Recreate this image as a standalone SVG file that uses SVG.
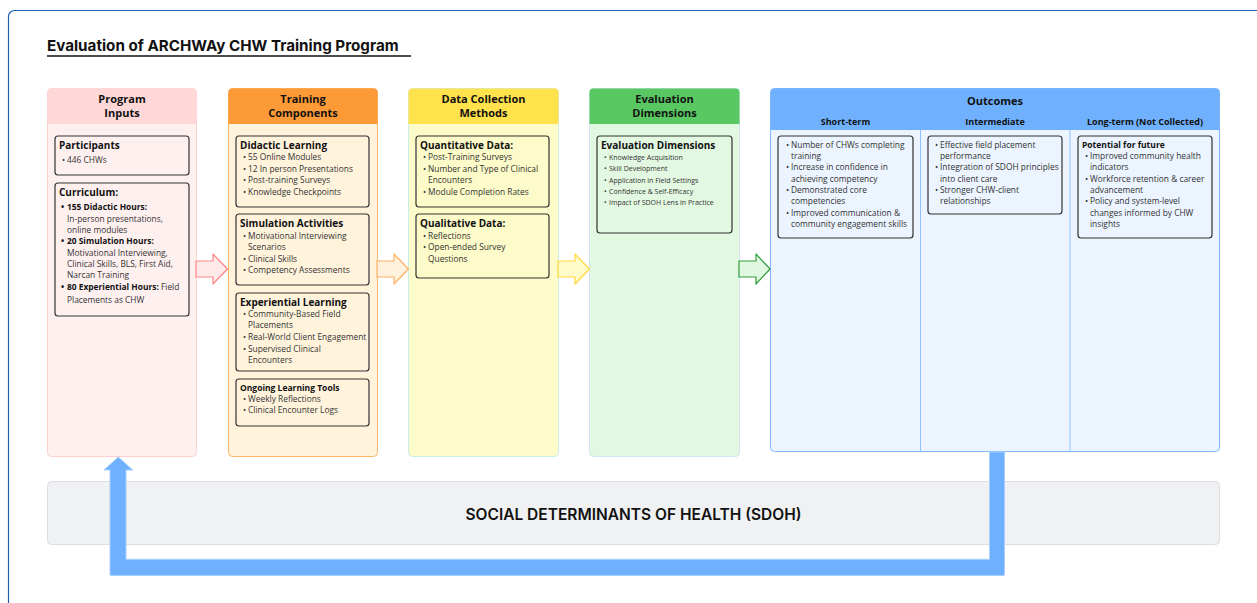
<svg xmlns="http://www.w3.org/2000/svg" width="1257" height="603" viewBox="0 0 1257 603">
  <style>
    .head { font-family: "Open Sans", sans-serif; font-weight: 700; font-size: 11px; fill: #111; text-anchor: middle; }
    .sub { font-family: "Open Sans", sans-serif; font-weight: 700; font-size: 9px; fill: #111; text-anchor: middle; }
    .ct { font-family: "Open Sans", sans-serif; font-weight: 700; font-size: 10px; fill: #111; }
    .cts { font-family: "Open Sans", sans-serif; font-weight: 700; font-size: 8.5px; fill: #111; }
    .b { font-family: "Open Sans", sans-serif; font-size: 8.4px; fill: #333; }
    .bs { font-family: "Open Sans", sans-serif; font-size: 7px; fill: #333; }
    .bb { font-weight: 700; fill: #111; }
    .card { stroke: #333; stroke-width: 1.2; }
    .arrow { stroke-width: 1.2; stroke-linejoin: round; }
  </style>

  <rect width="1257" height="603" fill="#ffffff"/>
  <!-- outer frame -->
  <rect x="8.5" y="10.5" width="1270" height="620" rx="6" fill="none" stroke="#1f5fb0" stroke-width="1.2"/>

  <!-- title -->
  <g id="title">
    <text x="47" y="51" font-family="Inter, 'Liberation Sans', sans-serif" font-weight="700" font-size="15.2" fill="#111">Evaluation of ARCHWAy CHW Training Program</text>
    <line x1="47" y1="56" x2="411" y2="56" stroke="#111" stroke-width="1.6"/>
  </g>

  <!-- column 1: program inputs -->
  <g id="program-inputs">
    <rect x="47.5" y="88.5" width="149" height="368" rx="4" fill="#fff0f0" stroke="#ffd0d0"/>
    <path d="M47.5 124 V92.5 a4 4 0 0 1 4 -4 H192.5 a4 4 0 0 1 4 4 V124 Z" fill="#ffd7d7"/>
    <text class="head" x="122"><tspan x="122" y="103">Program</tspan><tspan x="122" y="117">Inputs</tspan></text>

    <rect class="card" x="55" y="136" width="134" height="39" rx="3" fill="#fff0f0"/>
    <text class="ct" x="59" y="149">Participants</text>
    <text class="b" x="62" y="163">•<tspan x="67">446 CHWs</tspan></text>

    <rect class="card" x="55" y="183" width="134" height="133" rx="3" fill="#fff0f0"/>
    <text class="ct" x="59" y="196">Curriculum:</text>
    <text class="b">
      <tspan x="61" y="210" class="bb">•</tspan><tspan x="67" y="210" class="bb">155 Didactic Hours:</tspan>
      <tspan x="67" y="222">In-person presentations,</tspan>
      <tspan x="67" y="233">online modules</tspan>
      <tspan x="61" y="244" class="bb">•</tspan><tspan x="67" y="244" class="bb">20 Simulation Hours:</tspan>
      <tspan x="67" y="256">Motivational Interviewing,</tspan>
      <tspan x="67" y="267">Clinical Skills, BLS, First Aid,</tspan>
      <tspan x="67" y="278">Narcan Training</tspan>
      <tspan x="61" y="290" class="bb">•</tspan><tspan x="67" y="290" class="bb">80 Experiential Hours:</tspan><tspan> Field</tspan>
      <tspan x="67" y="303">Placements as CHW</tspan>
    </text>
  </g>

  <!-- column 2: training components -->
  <g id="training-components">
    <rect x="228.5" y="88.5" width="149" height="368" rx="4" fill="#fff3dc" stroke="#ffb566"/>
    <path d="M228.5 124 V92.5 a4 4 0 0 1 4 -4 H373.5 a4 4 0 0 1 4 4 V124 Z" fill="#fd9a38"/>
    <text class="head" x="303"><tspan x="303" y="103">Training</tspan><tspan x="303" y="117">Components</tspan></text>

    <rect class="card" x="236" y="136" width="133" height="71" rx="3" fill="#fff3dc"/>
    <text class="ct" x="240" y="149">Didactic Learning</text>
    <text class="b">
      <tspan x="243" y="160">•</tspan><tspan x="248" y="160">55 Online Modules</tspan>
      <tspan x="243" y="172">•</tspan><tspan x="248" y="172">12 In person Presentations</tspan>
      <tspan x="243" y="183">•</tspan><tspan x="248" y="183">Post-training Surveys</tspan>
      <tspan x="243" y="195">•</tspan><tspan x="248" y="195">Knowledge Checkpoints</tspan>
    </text>

    <rect class="card" x="236" y="214" width="133" height="71" rx="3" fill="#fff3dc"/>
    <text class="ct" x="240" y="227">Simulation Activities</text>
    <text class="b">
      <tspan x="243" y="239">•</tspan><tspan x="248" y="239">Motivational Interviewing</tspan>
      <tspan x="248" y="250">Scenarios</tspan>
      <tspan x="243" y="262">•</tspan><tspan x="248" y="262">Clinical Skills</tspan>
      <tspan x="243" y="273">•</tspan><tspan x="248" y="273">Competency Assessments</tspan>
    </text>

    <rect class="card" x="236" y="293" width="133" height="78" rx="3" fill="#fff3dc"/>
    <text class="ct" x="240" y="306">Experiential Learning</text>
    <text class="b">
      <tspan x="243" y="317">•</tspan><tspan x="248" y="317">Community-Based Field</tspan>
      <tspan x="248" y="328">Placements</tspan>
      <tspan x="243" y="340">•</tspan><tspan x="248" y="340">Real-World Client Engagement</tspan>
      <tspan x="243" y="352">•</tspan><tspan x="248" y="352">Supervised Clinical</tspan>
      <tspan x="248" y="363">Encounters</tspan>
    </text>

    <rect class="card" x="236" y="379" width="133" height="47" rx="3" fill="#fff3dc"/>
    <text class="cts" x="240" y="391">Ongoing Learning Tools</text>
    <text class="b">
      <tspan x="243" y="402">•</tspan><tspan x="248" y="402">Weekly Reflections</tspan>
      <tspan x="243" y="413">•</tspan><tspan x="248" y="413">Clinical Encounter Logs</tspan>
    </text>
  </g>

  <!-- column 3: data collection methods -->
  <g id="data-collection">
    <rect x="408.5" y="88.5" width="150" height="368" rx="4" fill="#fcfbc9" stroke="#c8eeea"/>
    <path d="M408.5 124 V92.5 a4 4 0 0 1 4 -4 H554.5 a4 4 0 0 1 4 4 V124 Z" fill="#ffe24c"/>
    <text class="head" x="483.5"><tspan x="483.5" y="103">Data Collection</tspan><tspan x="483.5" y="117">Methods</tspan></text>

    <rect class="card" x="416" y="136" width="133" height="71" rx="3" fill="#fcfbc9"/>
    <text class="ct" x="420" y="149">Quantitative Data:</text>
    <text class="b">
      <tspan x="423" y="160">•</tspan><tspan x="428" y="160">Post-Training Surveys</tspan>
      <tspan x="423" y="172">•</tspan><tspan x="428" y="172">Number and Type of Clinical</tspan>
      <tspan x="428" y="183">Encounters</tspan>
      <tspan x="423" y="195">•</tspan><tspan x="428" y="195">Module Completion Rates</tspan>
    </text>

    <rect class="card" x="416" y="214" width="133" height="64" rx="3" fill="#fcfbc9"/>
    <text class="ct" x="420" y="227">Qualitative Data:</text>
    <text class="b">
      <tspan x="423" y="239">•</tspan><tspan x="428" y="239">Reflections</tspan>
      <tspan x="423" y="250">•</tspan><tspan x="428" y="250">Open-ended Survey</tspan>
      <tspan x="428" y="262">Questions</tspan>
    </text>
  </g>

  <!-- column 4: evaluation dimensions -->
  <g id="evaluation-dimensions">
    <rect x="589.5" y="88.5" width="150" height="368" rx="4" fill="#e2f8e1" stroke="#d2e4f2"/>
    <path d="M589.5 124 V92.5 a4 4 0 0 1 4 -4 H735.5 a4 4 0 0 1 4 4 V124 Z" fill="#59c862"/>
    <text class="head" x="664.5"><tspan x="664.5" y="103">Evaluation</tspan><tspan x="664.5" y="117">Dimensions</tspan></text>

    <rect class="card" x="597" y="136" width="135" height="97" rx="3" fill="#e2f8e1"/>
    <text class="ct" x="601" y="149">Evaluation Dimensions</text>
    <text class="bs">
      <tspan x="604" y="160">•</tspan><tspan x="609" y="160">Knowledge Acquisition</tspan>
      <tspan x="604" y="171">•</tspan><tspan x="609" y="171">Skill Development</tspan>
      <tspan x="604" y="183">•</tspan><tspan x="609" y="183">Application in Field Settings</tspan>
      <tspan x="604" y="194">•</tspan><tspan x="609" y="194">Confidence &amp; Self-Efficacy</tspan>
      <tspan x="604" y="205">•</tspan><tspan x="609" y="205">Impact of SDOH Lens in Practice</tspan>
    </text>
  </g>

  <!-- column 5: outcomes -->
  <g id="outcomes">
    <rect x="770.5" y="88.5" width="449" height="363" rx="4" fill="#ebf4ff" stroke="#80b7ff"/>
    <path d="M770.5 130 V92.5 a4 4 0 0 1 4 -4 H1215.5 a4 4 0 0 1 4 4 V130 Z" fill="#70b1ff"/>
    <line x1="920.5" y1="130" x2="920.5" y2="451" stroke="#8fc0ff"/>
    <line x1="1070" y1="130" x2="1070" y2="451" stroke="#8fc0ff"/>
    <text class="head" x="995" y="105">Outcomes</text>
    <text class="sub" x="845.5" y="125">Short-term</text>
    <text class="sub" x="995" y="125">Intermediate</text>
    <text class="sub" x="1145" y="125">Long-term (Not Collected)</text>

    <g id="short-term">
      <rect class="card" x="778" y="136" width="135" height="102" rx="3" fill="#ebf4ff"/>
      <text class="b">
        <tspan x="786" y="148">•</tspan><tspan x="791" y="148">Number of CHWs completing</tspan>
        <tspan x="791" y="159">training</tspan>
        <tspan x="786" y="170">•</tspan><tspan x="791" y="170">Increase in confidence in</tspan>
        <tspan x="791" y="182">achieving competency</tspan>
        <tspan x="786" y="193">•</tspan><tspan x="791" y="193">Demonstrated core</tspan>
        <tspan x="791" y="204">competencies</tspan>
        <tspan x="786" y="216">•</tspan><tspan x="791" y="216">Improved communication &amp;</tspan>
        <tspan x="791" y="227">community engagement skills</tspan>
      </text>
    </g>

    <g id="intermediate">
      <rect class="card" x="928" y="136" width="134" height="78" rx="3" fill="#ebf4ff"/>
      <text class="b">
        <tspan x="935" y="148">•</tspan><tspan x="940" y="148">Effective field placement</tspan>
        <tspan x="940" y="159">performance</tspan>
        <tspan x="935" y="170">•</tspan><tspan x="940" y="170">Integration of SDOH principles</tspan>
        <tspan x="940" y="182">into client care</tspan>
        <tspan x="935" y="193">•</tspan><tspan x="940" y="193">Stronger CHW-client</tspan>
        <tspan x="940" y="204">relationships</tspan>
      </text>
    </g>

    <g id="long-term">
      <rect class="card" x="1078" y="136" width="134" height="102" rx="3" fill="#ebf4ff"/>
      <text class="cts" x="1082" y="148">Potential for future</text>
      <text class="b">
        <tspan x="1085" y="159">•</tspan><tspan x="1090" y="159">Improved community health</tspan>
        <tspan x="1090" y="170">indicators</tspan>
        <tspan x="1085" y="182">•</tspan><tspan x="1090" y="182">Workforce retention &amp; career</tspan>
        <tspan x="1090" y="193">advancement</tspan>
        <tspan x="1085" y="204">•</tspan><tspan x="1090" y="204">Policy and system-level</tspan>
        <tspan x="1090" y="216">changes informed by CHW</tspan>
        <tspan x="1090" y="227">insights</tspan>
      </text>
    </g>
  </g>

  <!-- social determinants band -->
  <g id="sdoh">
    <rect x="47.5" y="481.5" width="1172" height="63" rx="4" fill="#f0f1f3" stroke="#dcdee2"/>
    <text x="633.5" y="520" text-anchor="middle" font-family="Inter, 'Liberation Sans', sans-serif" font-weight="600" font-size="15.5" fill="#111">SOCIAL DETERMINANTS OF HEALTH (SDOH)</text>
  </g>

  <!-- connectors -->
  <g id="connectors">
    <path class="arrow" d="M196 261 H213 V254 L227.5 269 L213 284 V277 H196 Z" fill="#ffe9e9" stroke="#ff8585"/>
    <path class="arrow" d="M377 261 H394 V254 L408.5 269 L394 284 V277 H377 Z" fill="#fff1dc" stroke="#ffb264"/>
    <path class="arrow" d="M558 261 H575 V254 L589.5 269 L575 284 V277 H558 Z" fill="#fffbc8" stroke="#ffd83c"/>
    <path class="arrow" d="M739 261 H756 V254 L770 269 L756 284 V277 H739 Z" fill="#e0f8df" stroke="#2f9e40"/>
    <!-- feedback loop from outcomes back to program inputs -->
    <path d="M989.5 452 H1004.5 V574.5 a1 1 0 0 1 -1 1 H111 a1 1 0 0 1 -1 -1 V470 H104 L118.3 457 L132.7 470 H126 V559.3 H989.5 Z" fill="#6fb1ff" stroke="#a9cfff" stroke-width="1" stroke-linejoin="round"/>
  </g>
</svg>
